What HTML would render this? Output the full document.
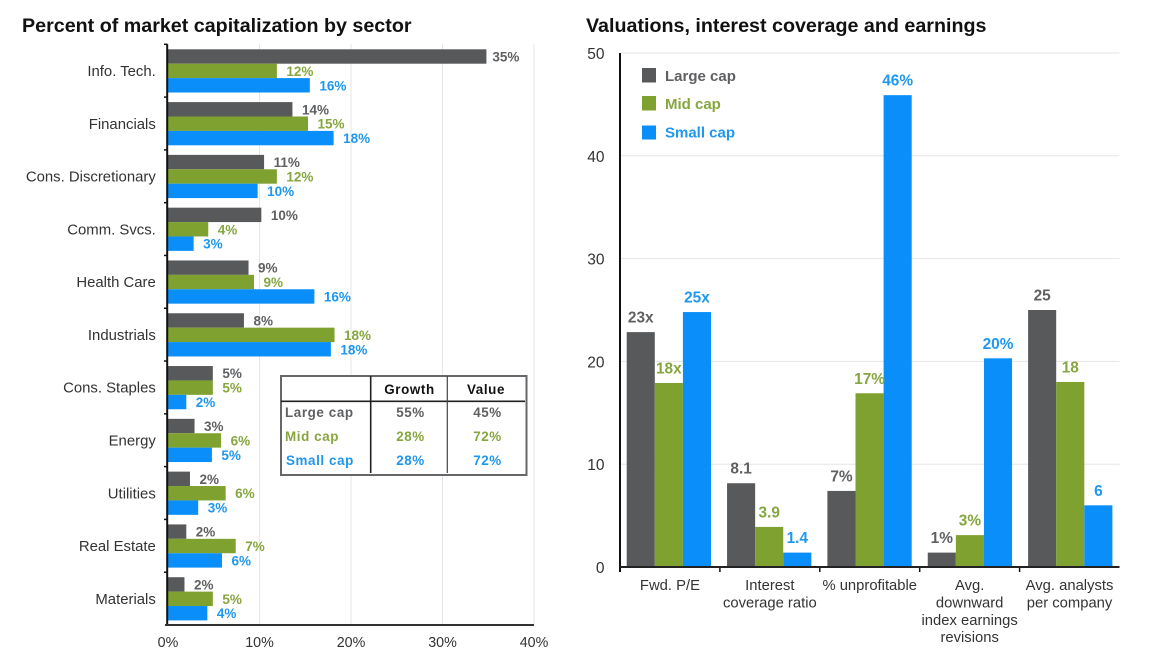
<!DOCTYPE html>
<html lang="en">
<head>
<meta charset="utf-8">
<title>Market capitalization and valuations</title>
<style>
html,body{margin:0;padding:0;background:#fff;width:1163px;height:652px;overflow:hidden}
svg{display:block;font-family:"Liberation Sans",sans-serif;filter:blur(0.3px)}
</style>
</head>
<body>
<svg id="chart" xmlns="http://www.w3.org/2000/svg" width="1163" height="652" viewBox="0 0 1163 652">
  <text x="22" y="32" font-size="19.7" font-weight="bold" fill="#111">Percent of market capitalization by sector</text>
  <text x="586" y="32" font-size="19.7" font-weight="bold" fill="#111">Valuations, interest coverage and earnings</text>
  <g id="left"></g>
  <g id="right"></g>

  <g font-size="13.4" font-weight="bold" text-anchor="middle" letter-spacing="0.6">
    <rect x="281" y="376" width="245.5" height="99" fill="#fff" stroke="#66676a" stroke-width="2"/>
    <line x1="281" x2="525" y1="401.3" y2="401.3" stroke="#222" stroke-width="1.6"/>
    <line x1="370.7" x2="370.7" y1="376" y2="473" stroke="#222" stroke-width="1.6"/>
    <line x1="447.3" x2="447.3" y1="376" y2="473" stroke="#444" stroke-width="1.2"/>
    <text x="409.5" y="394" fill="#111">Growth</text>
    <text x="486" y="394" fill="#111">Value</text>
    <text x="285" y="417" text-anchor="start" fill="#5f6062">Large cap</text>
    <text x="410.5" y="417" fill="#5f6062">55%</text>
    <text x="487.5" y="417" fill="#5f6062">45%</text>
    <text x="285" y="441" text-anchor="start" fill="#86a63f">Mid cap</text>
    <text x="410.5" y="441" fill="#86a63f">28%</text>
    <text x="487.5" y="441" fill="#86a63f">72%</text>
    <text x="286" y="465" text-anchor="start" fill="#1f97ee">Small cap</text>
    <text x="410.5" y="465" fill="#1f97ee">28%</text>
    <text x="487.5" y="465" fill="#1f97ee">72%</text>
  </g>

  <g font-size="15" font-weight="bold">
    <rect x="642" y="68" width="14" height="14.5" fill="#58595b"/>
    <text x="665" y="81" fill="#5f6062">Large cap</text>
    <rect x="642" y="96" width="14" height="14.5" fill="#7ea12f"/>
    <text x="665" y="109" fill="#86a63f">Mid cap</text>
    <rect x="642" y="125.5" width="14" height="14" fill="#0a8ffa"/>
    <text x="665" y="137.7" fill="#1f97ee">Small cap</text>
  </g>
</svg>
<script>
// ---- Left chart data ----
const sectorCategories = ["Info. Tech.","Financials","Cons. Discretionary","Comm. Svcs.","Health Care","Industrials","Cons. Staples","Energy","Utilities","Real Estate","Materials"];
const sectorLarge = [34.8,13.6,10.5,10.2,8.8,8.3,4.9,2.9,2.4,2.0,1.8];
const sectorMid = [11.9,15.3,11.9,4.4,9.4,18.2,4.9,5.8,6.3,7.4,4.9];
const sectorSmall = [15.5,18.1,9.8,2.8,16.0,17.8,2.0,4.8,3.3,5.9,4.3];
const sectorLargeLabels = ["35%","14%","11%","10%","9%","8%","5%","3%","2%","2%","2%"];
const sectorMidLabels = ["12%","15%","12%","4%","9%","18%","5%","6%","6%","7%","5%"];
const sectorSmallLabels = ["16%","18%","10%","3%","16%","18%","2%","5%","3%","6%","4%"];
const sectorTicks = [0,10,20,30,40];
const sectorTickLabels = ["0%","10%","20%","30%","40%"];

// ---- Right chart data ----
const metricCategories = [["Fwd. P/E"],["Interest","coverage ratio"],["% unprofitable"],["Avg.","downward","index earnings","revisions"],["Avg. analysts","per company"]];
const metricLarge = [22.85,8.15,7.4,1.4,25];
const metricMid = [17.9,3.9,16.9,3.1,18];
const metricSmall = [24.8,1.4,45.9,20.3,6];
const metricLargeLabels = ["23x","8.1","7%","1%","25"];
const metricMidLabels = ["18x","3.9","17%","3%","18"];
const metricSmallLabels = ["25x","1.4","46%","20%","6"];
const metricTicks = [0,10,20,30,40,50];

const GRAY = "#58595b", GREEN = "#7ea12f", BLUE = "#0a8ffa";
const GRAY_T = "#5f6062", GREEN_T = "#86a63f", BLUE_T = "#1f97ee";
const NS = "http://www.w3.org/2000/svg";

function mk(parent, tag, attrs, txt) {
  const el = document.createElementNS(NS, tag);
  for (const k in attrs) el.setAttribute(k, attrs[k]);
  if (txt !== undefined) el.textContent = txt;
  parent.appendChild(el);
  return el;
}

// ---- Left chart ----
(function () {
  const g = document.getElementById("left");
  const x0 = 168, x1 = 534, top = 44.3, bottom = 625;
  const xScale = v => x0 + (v / 40) * (x1 - x0);
  const band = (bottom - top) / sectorCategories.length;
  const barH = 14.4, pad = 5;

  sectorTicks.forEach((t, i) => {
    if (t > 0) {
      const gl = mk(g, "line", {x1: xScale(t), x2: xScale(t), y1: top, y2: bottom, stroke: "#e6e6e6", "stroke-width": 1});
      
      
    }
    const lb = mk(g, "text", {x: xScale(t), y: 647, "text-anchor": "middle", "font-size": 14.3, fill: "#333"}, sectorTickLabels[i]);
    
    
  });

  const series = [
    {vals: sectorLarge, labels: sectorLargeLabels, fill: GRAY, text: GRAY_T},
    {vals: sectorMid, labels: sectorMidLabels, fill: GREEN, text: GREEN_T},
    {vals: sectorSmall, labels: sectorSmallLabels, fill: BLUE, text: BLUE_T}
  ];

  sectorCategories.forEach((c, i) => {
    const yTop = top + i * band;
    const cat = mk(g, "text", {x: 155.8, y: yTop + band / 2 + 5.3, "text-anchor": "end", "font-size": 14.9, fill: "#333"}, c);
    
    
    const tick = mk(g, "line", {x1: 164, x2: 167.5, y1: yTop, y2: yTop, stroke: "#111", "stroke-width": 1.5});
    
    
    series.forEach((s, j) => {
      const y = yTop + pad + j * barH;
      const bar = mk(g, "rect", {x: x0, y: y, width: xScale(s.vals[i]) - x0, height: barH, fill: s.fill});
      
      
      const off = s.vals[i] > 30 ? 6 : 9.5;
      const lb = mk(g, "text", {x: xScale(s.vals[i]) + off, y: y + barH / 2 + 5, "font-size": 13.5, "font-weight": "bold", fill: s.text}, s.labels[i]);
      
      
    });
  });

  const yAxis = mk(g, "line", {x1: 167.2, x2: 167.2, y1: top, y2: bottom + 1, stroke: "#111", "stroke-width": 2});
  
  
  const xAxis = mk(g, "line", {x1: 165, x2: x1, y1: bottom, y2: bottom, stroke: "#333", "stroke-width": 2});
  
  
})();

// ---- Right chart ----
(function () {
  const g = document.getElementById("right");
  const x0 = 620, x1 = 1119.5, y0 = 567, y50 = 53;
  const yScale = v => y0 - (v / 50) * (y0 - y50);
  const band = (x1 - x0) / metricCategories.length;
  const barW = 28.1, groupStart = 626.7, groupStep = 100.35;

  metricTicks.forEach(t => {
    if (t > 0) {
      const gl = mk(g, "line", {x1: x0, x2: x1, y1: yScale(t), y2: yScale(t), stroke: "#e6e6e6", "stroke-width": 1});
      
      
    }
    const lb = mk(g, "text", {x: 604.5, y: yScale(t) + 6, "text-anchor": "end", "font-size": 15.5, fill: "#333"}, String(t));
    
    
  });

  const series = [
    {vals: metricLarge, labels: metricLargeLabels, fill: GRAY, text: GRAY_T},
    {vals: metricMid, labels: metricMidLabels, fill: GREEN, text: GREEN_T},
    {vals: metricSmall, labels: metricSmallLabels, fill: BLUE, text: BLUE_T}
  ];

  metricCategories.forEach((lines, i) => {
    const xLeft = x0 + i * band;
    const gx = groupStart + i * groupStep;
    series.forEach((s, j) => {
      const x = gx + j * barW;
      const bar = mk(g, "rect", {x: x, y: yScale(s.vals[i]), width: barW, height: y0 - yScale(s.vals[i]), fill: s.fill});
      
      
    });
    series.forEach((s, j) => {
      const x = gx + j * barW;
      const lb = mk(g, "text", {x: x + barW / 2, y: yScale(s.vals[i]) - 9.5, "text-anchor": "middle", "font-size": 15.4, "font-weight": "bold", fill: s.text}, s.labels[i]);
      
      
    });
    const tick = mk(g, "line", {x1: xLeft, x2: xLeft, y1: y0, y2: y0 + 5, stroke: "#111", "stroke-width": 1.5});
    
    
    lines.forEach((ln, k) => {
      const lb = mk(g, "text", {x: xLeft + band / 2, y: 590 + k * 17.4, "text-anchor": "middle", "font-size": 14.8, fill: "#333"}, ln);
      
      
    });
  });

  const yAxis = mk(g, "line", {x1: x0, x2: x0, y1: y50, y2: y0 + 5, stroke: "#111", "stroke-width": 2});
  
  
  const xAxis = mk(g, "line", {x1: x0, x2: x1, y1: y0, y2: y0, stroke: "#222", "stroke-width": 2});
  
  
})();
</script>
</body>
</html>
